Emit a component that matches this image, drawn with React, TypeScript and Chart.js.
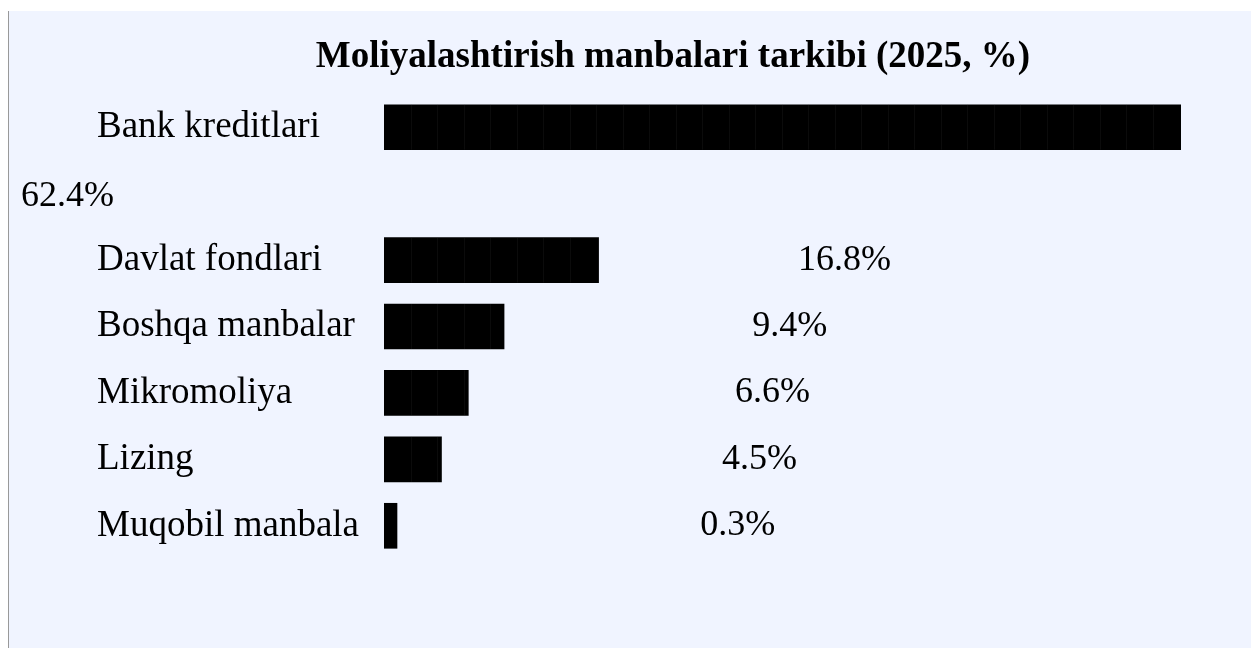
import React, { useEffect, useRef } from "react";
import { Chart, registerables } from "chart.js";

Chart.register(...registerables);

const titleText = "Moliyalashtirish manbalari tarkibi (2025, %)";
const categories = [
  "Bank kreditlari",
  "Davlat fondlari",
  "Boshqa manbalar",
  "Mikromoliya",
  "Lizing",
  "Muqobil manbala",
];
const shares = [62.4, 16.8, 9.4, 6.6, 4.5, 0.3];

const FONT = '"Liberation Serif", "Times New Roman", serif';
const FS_LABEL = 37;
const FS_VALUE = 36;

// The first row's value label wraps onto its own line below the bar.
const rowLabels = [categories[0], "", ...categories.slice(1)];
const rowValues: (number | null)[] = [shares[0], null, ...shares.slice(1)];

const titlePlugin = {
  id: "customTitle",
  afterDraw(chart: any) {
    const ctx = chart.ctx;
    ctx.save();
    ctx.font = `bold ${FS_LABEL}px ${FONT}`;
    ctx.fillStyle = "#000";
    ctx.textAlign = "center";
    ctx.textBaseline = "alphabetic";
    ctx.fillText(titleText, 664, 56);
    ctx.restore();
  },
};

const valueLabelPlugin = {
  id: "valueLabels",
  afterDatasetsDraw(chart: any) {
    const ctx = chart.ctx;
    const meta = chart.getDatasetMeta(0);
    const xs = chart.scales.x;
    const ys = chart.scales.y;
    const zero = xs.getPixelForValue(0);
    ctx.save();
    ctx.font = `${FS_VALUE}px ${FONT}`;
    ctx.fillStyle = "#000";
    ctx.textAlign = "left";
    ctx.textBaseline = "middle";
    rowValues.forEach((v, i) => {
      if (v == null) return;
      const txt = `${v.toFixed(1)}%`;
      if (i === 0) {
        ctx.fillText(txt, 12, ys.getPixelForValue(1) + 3);
      } else {
        const bar = meta.data[i];
        const w = bar.x - zero;
        ctx.fillText(txt, zero + 310 + w * 0.485, bar.y);
      }
    });
    ctx.restore();
  },
};

const seamPlugin = {
  id: "seams",
  afterDatasetsDraw(chart: any) {
    const ctx = chart.ctx;
    const meta = chart.getDatasetMeta(0);
    const zero = chart.scales.x.getPixelForValue(0);
    ctx.save();
    ctx.strokeStyle = "rgba(60,60,60,0.18)";
    ctx.lineWidth = 1;
    meta.data.forEach((bar: any, i: number) => {
      if (rowValues[i] == null) return;
      const top = bar.y - bar.height / 2;
      const bot = bar.y + bar.height / 2;
      for (let x = zero + 26.5; x < bar.x - 4; x += 26.5) {
        ctx.beginPath();
        ctx.moveTo(Math.round(x) + 0.5, top);
        ctx.lineTo(Math.round(x) + 0.5, bot);
        ctx.stroke();
      }
    });
    ctx.restore();
  },
};

export default function App() {
  const ref = useRef<HTMLCanvasElement | null>(null);
  useEffect(() => {
    if (!ref.current) return;
    const chart = new Chart(ref.current, {
      type: "bar",
      data: {
        labels: rowLabels,
        datasets: [
          {
            data: rowValues,
            backgroundColor: "#000",
            borderWidth: 0,
            barThickness: 45,
            minBarLength: 13,
          },
        ],
      },
      options: {
        indexAxis: "y",
        animation: false,
        responsive: false,
        layout: { padding: { left: 88, right: 70, top: 83, bottom: 89 } },
        plugins: {
          legend: { display: false },
          title: { display: false },
          tooltip: { enabled: false },
        },
        scales: {
          x: {
            display: false,
            min: 0,
            max: 62.4,
            grid: { display: false },
          },
          y: {
            grid: { display: false, drawTicks: false },
            border: { display: false },
            ticks: {
              crossAlign: "far",
              color: "#000",
              font: { family: FONT, size: FS_LABEL },
              padding: 0,
              autoSkip: false,
            },
            afterFit: (scale: any) => {
              scale.width = 287;
            },
          },
        },
      },
      plugins: [titlePlugin, valueLabelPlugin, seamPlugin],
    });
    return () => chart.destroy();
  }, []);

  return (
    <div
      style={{
        position: "absolute",
        left: 8,
        top: 11,
        width: 1243,
        height: 637,
        background: "#f0f4ff",
        borderLeft: "1px solid #999",
        boxSizing: "border-box",
      }}
    >
      <canvas ref={ref} width={1242} height={637} style={{ display: "block" }} />
    </div>
  );
}
